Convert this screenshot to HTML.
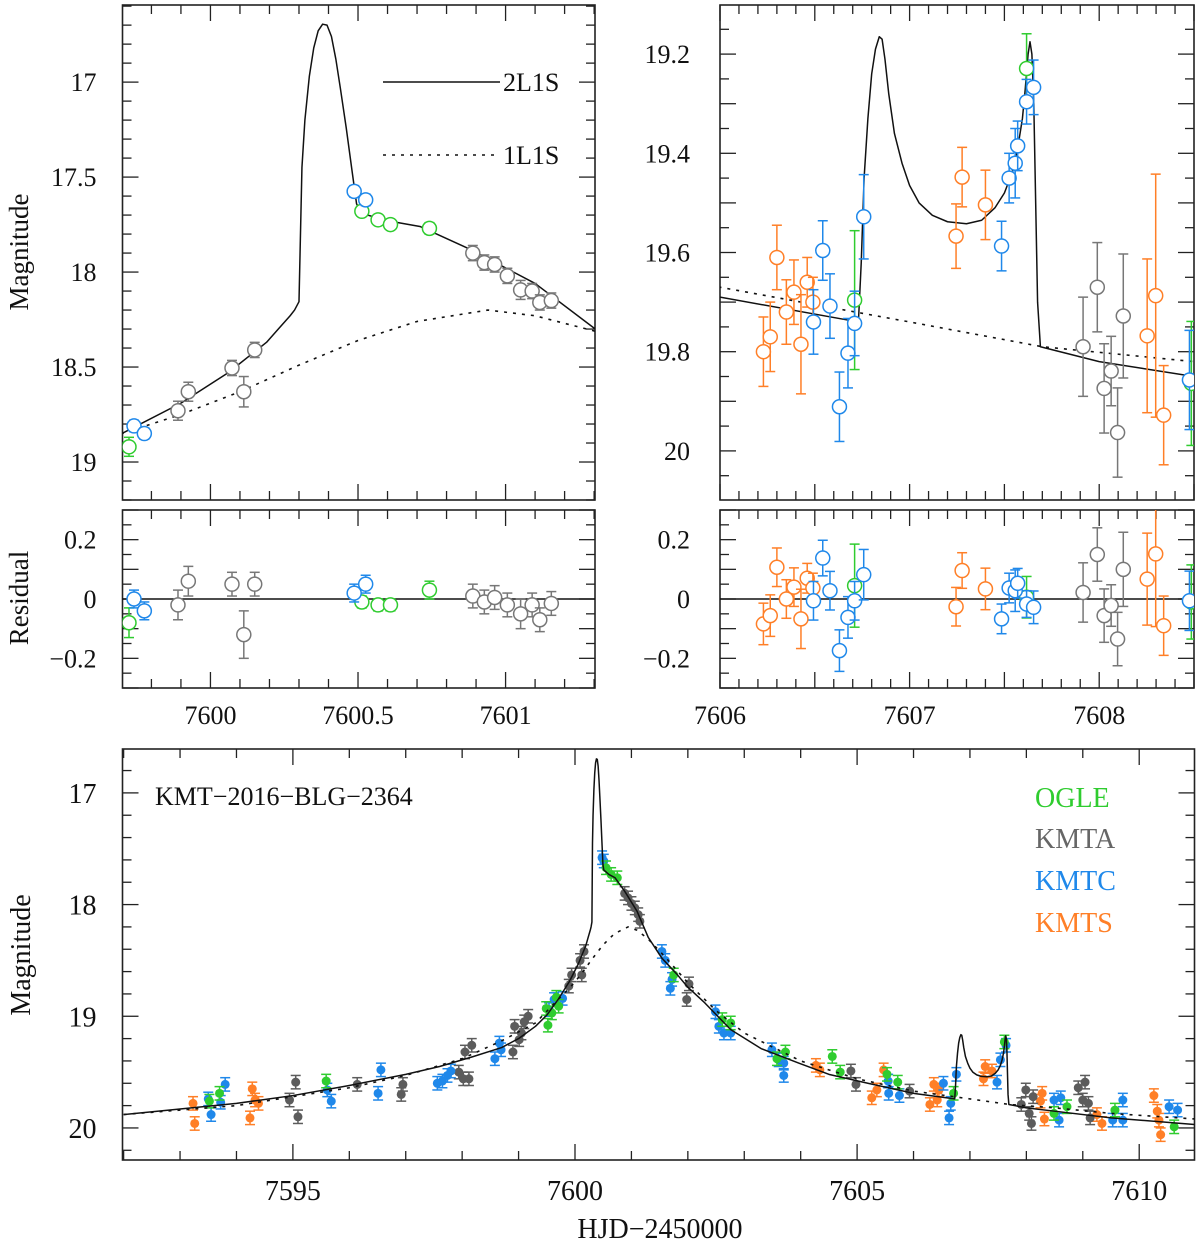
<!DOCTYPE html>
<html><head><meta charset="utf-8"><style>
html,body{margin:0;padding:0;background:#fff}
svg{display:block;font-family:"Liberation Serif",serif}
</style></head><body>
<svg id="chart" width="1200" height="1246" viewBox="0 0 1200 1246" xmlns="http://www.w3.org/2000/svg">
<g id="layer"></g>
</svg>
<script>
// ---- model curves (t, mag) ----
const model2T=[7592,7593,7594,7595,7596,7597,7597.6,7598.2,7598.7,7599.0,7599.3,7599.5,7599.7,7599.9,7600.06,7600.19,7600.23,7600.27,7600.285,7600.30,7600.31,7600.32,7600.335,7600.35,7600.365,7600.38,7600.395,7600.41,7600.425,7600.44,7600.46,7600.48,7600.495,7600.51,7600.6,7600.71,7600.88,7601.1,7601.3,7601.54,7601.8,7602,7602.3,7602.76,7603.3,7603.97,7604.5,7605.19,7606,7606.73,7606.745,7606.76,7606.78,7606.80,7606.82,7606.84,7606.855,7606.87,7606.89,7606.92,7606.96,7607.0,7607.05,7607.12,7607.2,7607.3,7607.38,7607.45,7607.5,7607.54,7607.57,7607.595,7607.61,7607.625,7607.635,7607.645,7607.655,7607.665,7607.675,7607.69,7608,7608.5,7609.5,7611];
const model2M=[19.88,19.83,19.78,19.71,19.62,19.52,19.45,19.36,19.28,19.20,19.09,18.99,18.85,18.69,18.53,18.37,18.30,18.23,18.20,18.156,17.45,17.2,16.97,16.82,16.73,16.695,16.70,16.76,16.88,17.03,17.24,17.47,17.64,17.69,17.73,17.76,17.88,18.06,18.295,18.48,18.62,18.74,18.88,19.12,19.29,19.42,19.52,19.60,19.69,19.74,19.62,19.45,19.33,19.24,19.19,19.165,19.17,19.21,19.28,19.36,19.42,19.465,19.50,19.525,19.538,19.542,19.535,19.51,19.48,19.44,19.39,19.33,19.27,19.20,19.175,19.20,19.30,19.50,19.70,19.79,19.82,19.85,19.91,19.97];
const model1T=[7592,7594,7596,7597,7598,7598.7,7599.3,7599.7,7599.9,7600.1,7600.3,7600.5,7600.7,7600.94,7601.1,7601.3,7601.6,7602,7602.5,7603,7604,7605,7606,7607,7607.7,7608.5,7609.5,7611];
const model1M=[19.88,19.80,19.64,19.53,19.38,19.22,19.06,18.85,18.75,18.63,18.49,18.36,18.26,18.20,18.23,18.31,18.47,18.70,18.95,19.15,19.40,19.56,19.67,19.74,19.79,19.82,19.87,19.92];

// ---- zoom-left panel data: [t, mag, err, residual] ----
const zlOGLE=[[7599.724,18.92,0.05,-0.08],[7600.513,17.68,0.02,-0.01],[7600.568,17.725,0.02,-0.02],[7600.61,17.75,0.02,-0.02],[7600.742,17.77,0.03,0.03]];
const zlKMTA=[[7599.89,18.73,0.05,-0.02],[7599.925,18.63,0.05,0.06],[7600.073,18.505,0.04,0.05],[7600.113,18.63,0.08,-0.12],[7600.15,18.41,0.04,0.05],[7600.889,17.90,0.04,0.01],[7600.928,17.95,0.04,-0.01],[7600.963,17.96,0.04,0.005],[7601.006,18.02,0.04,-0.02],[7601.051,18.094,0.05,-0.05],[7601.09,18.10,0.04,-0.02],[7601.116,18.16,0.04,-0.07],[7601.155,18.15,0.04,-0.015]];
const zlKMTC=[[7599.741,18.81,0.03,0.0],[7599.776,18.85,0.03,-0.04],[7600.487,17.575,0.03,0.02],[7600.526,17.62,0.03,0.05]];
const zlKMTS=[];

// ---- zoom-right panel data: [t, mag, err, residual] ----
const zrOGLE=[[7606.71,19.696,0.14,0.045],[7607.617,19.229,0.07,0.006],[7608.486,19.864,0.125,-0.01]];
const zrKMTA=[[7607.915,19.79,0.1,0.022],[7607.99,19.67,0.09,0.15],[7608.026,19.874,0.09,-0.056],[7608.063,19.839,0.07,-0.022],[7608.097,19.963,0.09,-0.135],[7608.127,19.728,0.125,0.1]];
const zrKMTC=[[7606.493,19.74,0.065,-0.006],[7606.542,19.596,0.06,0.138],[7606.58,19.708,0.065,0.028],[7606.63,19.911,0.07,-0.174],[7606.675,19.803,0.07,-0.062],[7606.71,19.743,0.065,-0.006],[7606.758,19.528,0.085,0.082],[7607.485,19.587,0.05,-0.067],[7607.525,19.45,0.05,0.037],[7607.557,19.42,0.07,0.028],[7607.57,19.385,0.05,0.053],[7607.617,19.296,0.045,-0.017],[7607.654,19.267,0.055,-0.028],[7608.476,19.857,0.1,-0.006]];
const zrKMTS=[[7606.229,19.80,0.07,-0.084],[7606.265,19.77,0.07,-0.056],[7606.30,19.61,0.065,0.107],[7606.35,19.72,0.065,0.0],[7606.39,19.68,0.065,0.04],[7606.427,19.785,0.1,-0.067],[7606.46,19.66,0.05,0.07],[7606.49,19.70,0.05,0.037],[7607.245,19.567,0.065,-0.026],[7607.277,19.448,0.06,0.096],[7607.40,19.504,0.07,0.034],[7608.253,19.768,0.155,0.067],[7608.298,19.687,0.245,0.152],[7608.34,19.928,0.1,-0.09]];

// ---- full light curve data: [t, mag] ----
const fOGLE=[[7593.52,19.76],[7593.70,19.69],[7595.59,19.58],[7599.49,18.93],[7599.52,19.08],[7599.59,18.97],[7599.71,18.91],[7599.67,18.83],[7600.55,17.67],[7600.64,17.73],[7600.75,17.76],[7601.75,18.63],[7602.76,19.06],[7602.61,19.03],[7603.58,19.38],[7603.73,19.32],[7604.56,19.36],[7604.70,19.50],[7605.53,19.52],[7605.72,19.59],[7606.71,19.69],[7607.61,19.23],[7608.49,19.87],[7608.72,19.81],[7609.57,19.84],[7610.62,19.99]];
const fKMTA=[[7594.94,19.75],[7595.05,19.59],[7595.09,19.90],[7596.14,19.61],[7596.92,19.70],[7596.95,19.61],[7597.94,19.50],[7598.02,19.56],[7598.12,19.56],[7598.05,19.32],[7598.17,19.26],[7598.90,19.32],[7598.93,19.09],[7599.01,19.21],[7599.05,19.15],[7599.10,19.05],[7599.17,19.00],[7599.89,18.73],[7599.94,18.63],[7600.09,18.50],[7600.12,18.63],[7600.16,18.42],[7600.88,17.90],[7600.94,17.94],[7601.00,17.99],[7601.06,18.03],[7601.12,18.09],[7601.15,18.15],[7602.02,18.71],[7601.98,18.85],[7604.89,19.49],[7604.98,19.61],[7605.93,19.67],[7607.99,19.66],[7607.91,19.79],[7608.05,19.87],[7608.12,19.72],[7608.09,19.96],[7608.92,19.64],[7609.04,19.59],[7609.0,19.75],[7609.1,19.78],[7609.13,19.91]];
const fKMTC=[[7593.50,19.74],[7593.55,19.88],[7593.72,19.77],[7593.80,19.61],[7595.61,19.66],[7595.68,19.76],[7596.51,19.69],[7596.56,19.48],[7597.56,19.60],[7597.65,19.58],[7597.74,19.53],[7597.80,19.49],[7598.58,19.38],[7598.66,19.24],[7598.69,19.30],[7599.54,18.94],[7599.63,18.85],[7599.78,18.84],[7600.48,17.58],[7600.51,17.61],[7601.54,18.42],[7601.60,18.50],[7601.69,18.75],[7601.72,18.67],[7602.49,18.96],[7602.55,19.09],[7602.64,19.15],[7602.76,19.15],[7603.49,19.30],[7603.61,19.39],[7603.70,19.53],[7603.70,19.42],[7605.55,19.58],[7605.56,19.69],[7605.75,19.71],[7606.53,19.60],[7606.63,19.91],[7606.66,19.78],[7606.76,19.52],[7607.48,19.59],[7607.54,19.39],[7607.64,19.26],[7608.49,19.75],[7608.61,19.73],[7608.58,19.93],[7609.71,19.75],[7609.53,19.93],[7609.71,19.93],[7610.53,19.81],[7610.68,19.84]];
const fKMTS=[[7593.23,19.78],[7593.26,19.96],[7594.28,19.65],[7594.24,19.91],[7594.33,19.75],[7594.39,19.78],[7604.27,19.44],[7604.34,19.48],[7605.26,19.73],[7605.35,19.66],[7605.47,19.48],[7606.29,19.79],[7606.36,19.61],[7606.42,19.75],[7606.45,19.66],[7607.27,19.45],[7607.24,19.56],[7607.39,19.49],[7608.28,19.69],[7608.25,19.76],[7608.32,19.92],[7609.25,19.88],[7609.34,19.96],[7610.26,19.71],[7610.32,19.85],[7610.38,20.06],[7610.35,19.93]];

// ---- axis tick labels ----
const zlYLabels=[17,17.5,18,18.5,19];
const zrYLabels=[19.2,19.4,19.6,19.8,20];
const resYLabels=[0.2,0,-0.2];
const zlXLabels=[7600,7600.5,7601];
const zrXLabels=[7606,7607,7608];
const fYLabels=[17,18,19,20];
const fXLabels=[7595,7600,7605,7610];

const COL={OGLE:'#2fcc2f',KMTA:'#777777',KMTC:'#1f88ea',KMTS:'#ff7f27'};
const COLF={OGLE:'#2fcc2f',KMTA:'#5c5c5c',KMTC:'#1f88ea',KMTS:'#ff7f27'};
const NS='http://www.w3.org/2000/svg';
const layer=document.getElementById('layer');
function mk(tag,attrs,parent){const e=document.createElementNS(NS,tag);for(const k in attrs)e.setAttribute(k,attrs[k]);(parent||layer).appendChild(e);return e;}
function fmt(v){const s=String(v);return v<0?'\u2212'+s.slice(1):s;}
function lin(d0,d1,r0,r1){return v=>r0+(v-d0)*(r1-r0)/(d1-d0);}

function frame(P,name){
  const g=mk('g',{});
  
  
  mk('rect',{x:P.x0,y:P.y0,width:P.x1-P.x0,height:P.y1-P.y0,fill:'none',stroke:'#222','stroke-width':1.6},g);
  return g;
}
function ticks(P,g,xMinor,xMajor,yMinor,yMajor){
  const e=1e-6;
  for(let v=Math.ceil(P.t0/xMinor-e)*xMinor;v<=P.t1+e;v+=xMinor){
    const X=P.sx(v);const maj=Math.abs(v/xMajor-Math.round(v/xMajor))<1e-4;const L=maj?16:9;
    mk('line',{x1:X,x2:X,y1:P.y1,y2:P.y1-L,stroke:'#222','stroke-width':1.3},g);
    mk('line',{x1:X,x2:X,y1:P.y0,y2:P.y0+L,stroke:'#222','stroke-width':1.3},g);
  }
  const lo=Math.min(P.m0,P.m1),hi=Math.max(P.m0,P.m1);
  for(let v=Math.ceil(lo/yMinor-e)*yMinor;v<=hi+e;v+=yMinor){
    const Y=P.sy(v);const maj=Math.abs(v/yMajor-Math.round(v/yMajor))<1e-4;const L=maj?16:9;
    mk('line',{x1:P.x0,x2:P.x0+L,y1:Y,y2:Y,stroke:'#222','stroke-width':1.3},g);
    mk('line',{x1:P.x1,x2:P.x1-L,y1:Y,y2:Y,stroke:'#222','stroke-width':1.3},g);
  }
}
function curve(P,T,M,dash,name){
  let d='';
  for(let i=0;i<T.length;i++){d+=(i?'L':'M')+P.sx(T[i]).toFixed(2)+','+P.sy(M[i]).toFixed(2);}
  const p=mk('path',{d:d,fill:'none',stroke:'#111','stroke-width':dash?1.6:1.5,'stroke-dasharray':dash?'3,6':'none','stroke-linejoin':'round','clip-path':'url(#'+P.clip+')'});
  
  
}
function clipDef(P){
  const defs=mk('defs',{});const c=mk('clipPath',{id:P.clip},defs);
  mk('rect',{x:P.x0,y:P.y0,width:P.x1-P.x0,height:P.y1-P.y0},c);
}
function points(P,arr,col,filled,r,idxM,name,fixedErr){
  arr.forEach(p=>{
    const g=mk('g',{'clip-path':'url(#'+P.clip+')'});
    
    
    const X=P.sx(p[0]),Y=P.sy(p[idxM]);const er=fixedErr!==undefined?fixedErr:p[2];
    const ya=P.sy(p[idxM]-er),yb=P.sy(p[idxM]+er);
    mk('line',{x1:X,x2:X,y1:ya,y2:yb,stroke:col,'stroke-width':1.5},g);
    mk('line',{x1:X-5,x2:X+5,y1:ya,y2:ya,stroke:col,'stroke-width':1.5},g);
    mk('line',{x1:X-5,x2:X+5,y1:yb,y2:yb,stroke:col,'stroke-width':1.5},g);
    if(filled)mk('circle',{cx:X,cy:Y,r:r,fill:col},g);
    else mk('circle',{cx:X,cy:Y,r:r,fill:'#fff',stroke:col,'stroke-width':1.5},g);
  });
}
function text(x,y,s,size,anchor,name,col,rot){
  const t=mk('text',{x:x,y:y,'font-size':size,'text-anchor':anchor||'middle',fill:col||'#111'});
  if(rot)t.setAttribute('transform','rotate(-90 '+x+' '+y+')');
  t.textContent=s;
  
  
  return t;
}
function mkPanel(x0,x1,y0,y1,t0,t1,m0,m1,clip){
  return {x0,x1,y0,y1,t0,t1,m0,m1,clip,sx:lin(t0,t1,x0,x1),sy:lin(m0,m1,y0,y1)};
}

// ===== Top-left zoom panel =====
const PL=mkPanel(122.5,595,5,500,7599.702,7601.303,16.594,19.2,'cpl');
clipDef(PL);
const gL=frame(PL,'zoom-left-panel');
ticks(PL,gL,0.1,0.5,0.1,0.5);
zlYLabels.forEach(v=>text(PL.x0-26,PL.sy(v)+9,fmt(v),26,'end','y-tick-label'));
curve(PL,model1T,model1M,true,'model-1l1s-curve');
curve(PL,model2T,model2M,false,'model-2l1s-curve');
points(PL,zlKMTA,COL.KMTA,false,7,1,'kmta-point');
points(PL,zlOGLE,COL.OGLE,false,7,1,'ogle-point');
points(PL,zlKMTC,COL.KMTC,false,7,1,'kmtc-point');
mk('line',{x1:383,x2:500,y1:82,y2:82,stroke:'#111','stroke-width':1.5});
text(503,91,'2L1S',26,'start','legend-2l1s');
mk('line',{x1:383,x2:500,y1:155,y2:155,stroke:'#111','stroke-width':1.6,'stroke-dasharray':'3,6'});
text(503,164,'1L1S',26,'start','legend-1l1s');
text(28,252,'Magnitude',27,'middle','y-axis-title-zoom',null,true);

// ===== Top-right zoom panel =====
const PR=mkPanel(720,1194,5,500,7606,7608.5,19.101,20.099,'cpr');
clipDef(PR);
const gR=frame(PR,'zoom-right-panel');
ticks(PR,gR,0.1,0.5,0.05,0.1);
zrYLabels.forEach(v=>text(PR.x0-30,PR.sy(v)+9,fmt(v),26,'end','y-tick-label'));
curve(PR,model1T,model1M,true,'model-1l1s-curve');
curve(PR,model2T,model2M,false,'model-2l1s-curve');
points(PR,zrKMTS,COL.KMTS,false,7,1,'kmts-point');
points(PR,zrKMTA,COL.KMTA,false,7,1,'kmta-point');
points(PR,zrOGLE,COL.OGLE,false,7,1,'ogle-point');
points(PR,zrKMTC,COL.KMTC,false,7,1,'kmtc-point');

// ===== Residual panels =====
const RL=mkPanel(122.5,595,510,688,7599.702,7601.303,0.3,-0.3,'crl');
clipDef(RL);
const gRL=frame(RL,'residual-left-panel');
ticks(RL,gRL,0.1,0.5,0.05,0.1);
mk('line',{x1:RL.x0,x2:RL.x1,y1:RL.sy(0),y2:RL.sy(0),stroke:'#111','stroke-width':1.5});
resYLabels.forEach(v=>text(RL.x0-26,RL.sy(v)+9,fmt(v),26,'end','y-tick-label'));
zlXLabels.forEach(v=>text(RL.sx(v),724,String(v),26,'middle','x-tick-label'));
points(RL,zlKMTA,COL.KMTA,false,7,3,'kmta-residual');
points(RL,zlOGLE,COL.OGLE,false,7,3,'ogle-residual');
points(RL,zlKMTC,COL.KMTC,false,7,3,'kmtc-residual');
text(28,598,'Residual',27,'middle','y-axis-title-residual',null,true);

const RR=mkPanel(720,1194,510,688,7606,7608.5,0.3,-0.3,'crr');
clipDef(RR);
const gRR=frame(RR,'residual-right-panel');
ticks(RR,gRR,0.1,0.5,0.05,0.1);
mk('line',{x1:RR.x0,x2:RR.x1,y1:RR.sy(0),y2:RR.sy(0),stroke:'#111','stroke-width':1.5});
resYLabels.forEach(v=>text(RR.x0-30,RR.sy(v)+9,fmt(v),26,'end','y-tick-label'));
zrXLabels.forEach(v=>text(RR.sx(v),724,String(v),26,'middle','x-tick-label'));
points(RR,zrKMTS,COL.KMTS,false,7,3,'kmts-residual');
points(RR,zrKMTA,COL.KMTA,false,7,3,'kmta-residual');
points(RR,zrOGLE,COL.OGLE,false,7,3,'ogle-residual');
points(RR,zrKMTC,COL.KMTC,false,7,3,'kmtc-residual');

// ===== Bottom full light curve =====
const PB=mkPanel(122.5,1194.5,749,1160,7591.98,7610.98,16.607,20.287,'cpb');
clipDef(PB);
const gB=frame(PB,'full-lightcurve-panel');
ticks(PB,gB,1,5,0.2,1);
fYLabels.forEach(v=>text(PB.x0-26,PB.sy(v)+10,fmt(v),28,'end','y-tick-label'));
fXLabels.forEach(v=>text(PB.sx(v),1200,String(v),28,'middle','x-tick-label'));
points(PB,fKMTS,COLF.KMTS,true,4.5,1,'kmts-point',0.06);
points(PB,fKMTA,COLF.KMTA,true,4.5,1,'kmta-point',0.06);
points(PB,fKMTC,COLF.KMTC,true,4.5,1,'kmtc-point',0.06);
points(PB,fOGLE,COLF.OGLE,true,4.5,1,'ogle-point',0.06);
curve(PB,model1T,model1M,true,'model-1l1s-curve');
curve(PB,model2T,model2M,false,'model-2l1s-curve');
text(155,805,'KMT\u22122016\u2212BLG\u22122364',26,'start','event-name');
text(1035,807,'OGLE',28,'start','legend-ogle',COL.OGLE);
text(1035,848,'KMTA',28,'start','legend-kmta','#666');
text(1035,890,'KMTC',28,'start','legend-kmtc',COL.KMTC);
text(1035,932,'KMTS',28,'start','legend-kmts',COL.KMTS);
text(30,955,'Magnitude',28,'middle','y-axis-title-full',null,true);
text(660,1238,'HJD\u22122450000',28,'middle','x-axis-title');
</script>
</body></html>
